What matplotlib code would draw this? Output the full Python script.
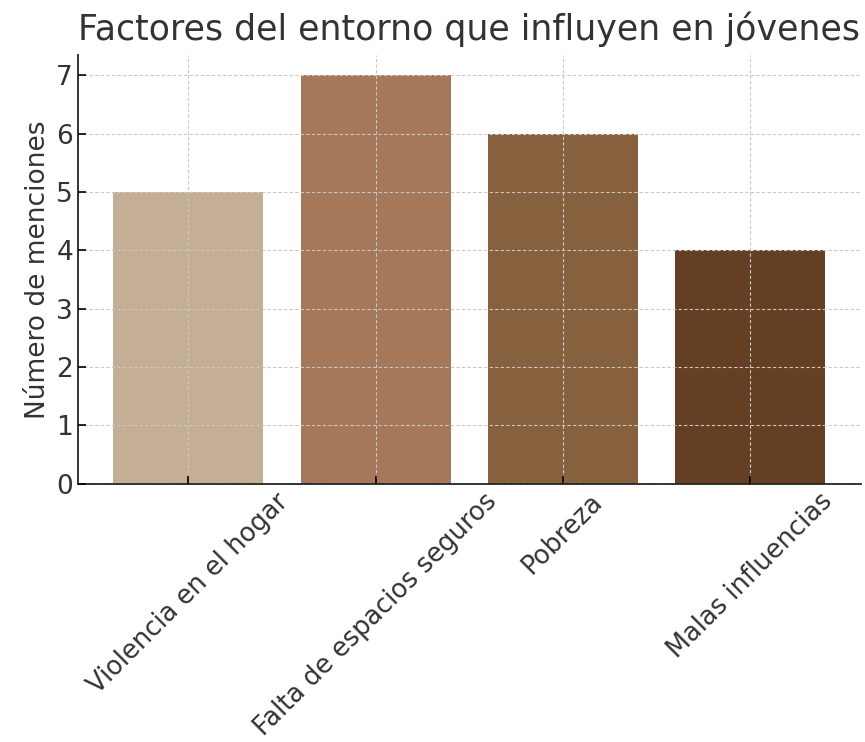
import matplotlib
matplotlib.use("Agg")
import matplotlib.pyplot as plt

categorias = ["Violencia en el hogar", "Falta de espacios seguros", "Pobreza", "Malas influencias"]
menciones = [5, 7, 6, 4]
colores = ["#C4AE96", "#A47858", "#87603D", "#643F23"]

plt.rcParams['font.family'] = ['DejaVu Sans']
fig = plt.figure(figsize=(8.65, 7.42), dpi=100)
ax = fig.add_axes([0.090, 0.348, 0.905, 0.578])

ax.bar(categorias, menciones, color=colores, width=0.8, zorder=1)
ax.set_axisbelow(False)
ax.grid(True, linestyle=(0, (3, 2)), color='#c8c8c8', linewidth=0.8, zorder=3)
for s in ['top', 'right']:
    ax.spines[s].set_visible(False)
for s in ['left', 'bottom']:
    ax.spines[s].set_linewidth(1.3)
    ax.spines[s].set_color('#222222')
ax.tick_params(direction='in', labelsize=19, labelcolor='#333333', length=6, width=1.2)
ax.tick_params(axis='x', labelsize=18.5)
plt.setp(ax.get_xticklabels(), rotation=45, ha='center')
ax.set_ylabel("Número de menciones", fontsize=19, color='#333333', labelpad=4)
ax.set_title("Factores del entorno que influyen en jóvenes", fontsize=25, color='#333333', pad=11)
fig.savefig("out.png", dpi=100)
